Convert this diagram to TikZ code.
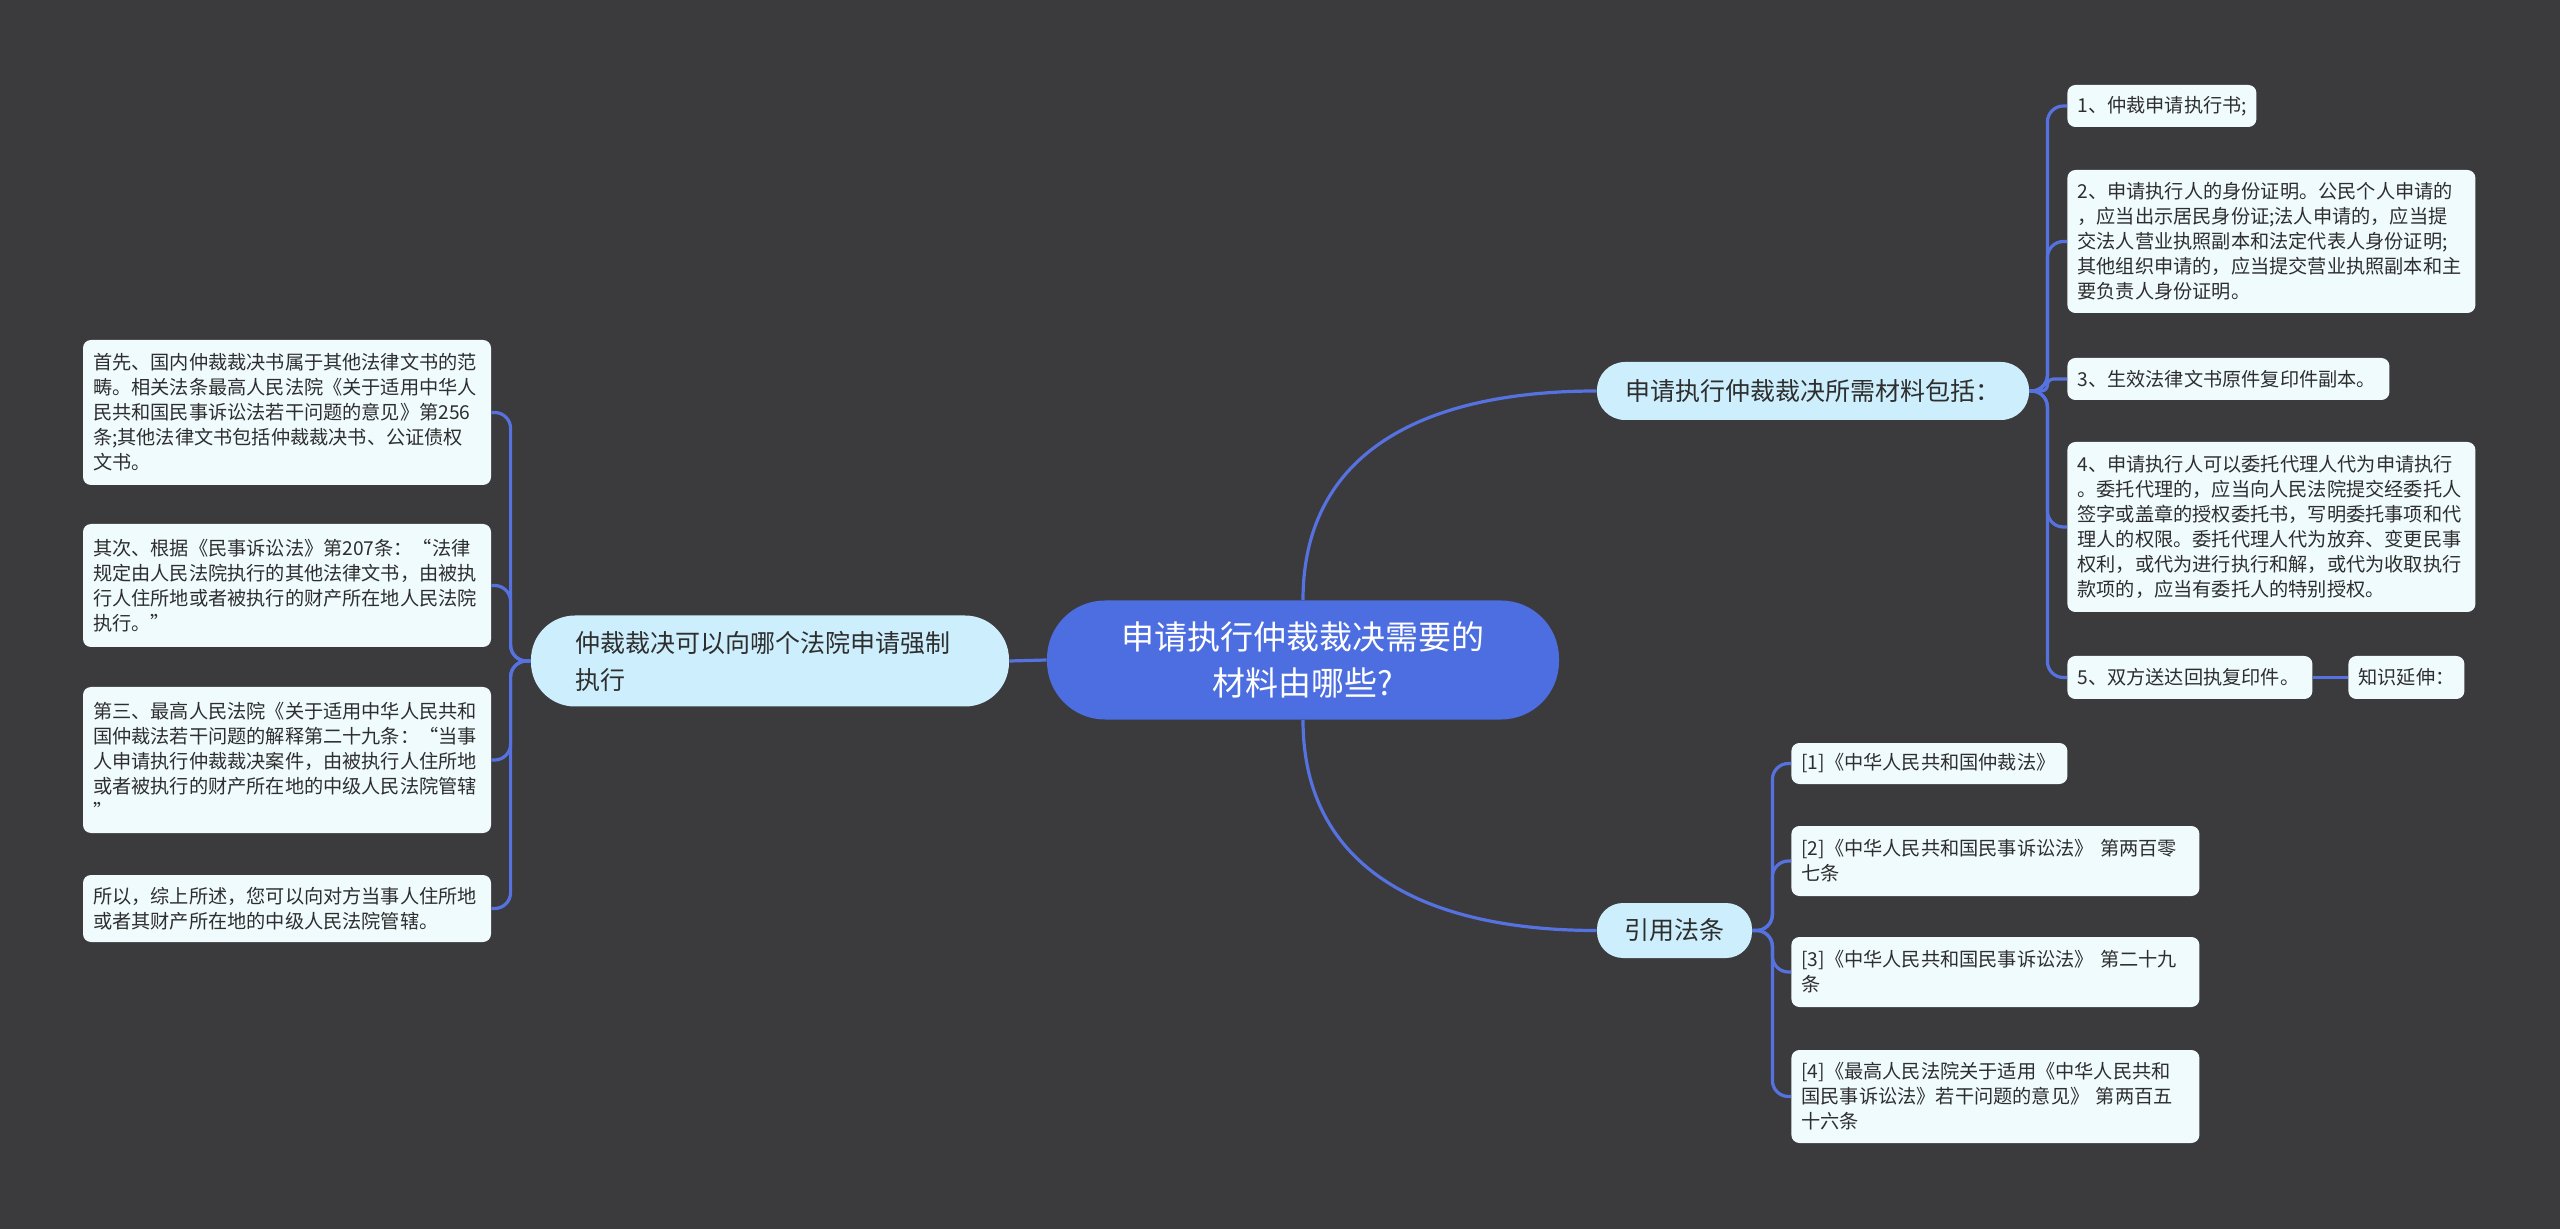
\documentclass[tikz,border=0pt]{standalone}
\usepackage{fontspec}
\setmainfont{Noto Sans CJK SC}
\usetikzlibrary{positioning}

\definecolor{bgcol}{HTML}{3B3A3C}
\definecolor{rootcol}{HTML}{4C6EE0}
\definecolor{linkcol}{HTML}{5572E0}
\definecolor{branchcol}{HTML}{CDEFFD}
\definecolor{leafcol}{HTML}{F0FBFE}
\definecolor{textcol}{HTML}{2E2E2E}

\begin{document}
\begin{tikzpicture}[x=0.5pt,y=-0.5pt,
  root/.style={fill=rootcol,text=white,rounded corners=29pt,align=center,
    minimum width=256pt,minimum height=59.5pt,inner sep=0pt,
    font=\fontsize{16.5}{23}\selectfont},
  branch/.style={fill=branchcol,text=textcol,inner sep=0pt,
    font=\fontsize{12.5}{18.5}\selectfont},
  leaf/.style={fill=leafcol,text=textcol,rounded corners=4pt,align=left,
    inner xsep=5pt,inner ysep=0pt,font=\fontsize{9.6}{12.5}\selectfont},
  link/.style={draw=linkcol,line width=1.6pt},
  fork/.style={link,rounded corners=8pt}]

\fill[bgcol] (0,0) rectangle (2560,1229);

% centre and main branches
\node[root] (root) at (1303,660) {申请执行仲裁裁决需要的\\材料由哪些?};
\node[branch,rounded corners=22pt,align=left,text width=195pt,inner xsep=22pt,
  minimum height=45.5pt] (court) at (770,661) {仲裁裁决可以向哪个法院申请强制\\执行};
\node[branch,rounded corners=14pt,minimum width=216pt,minimum height=29pt]
  (needs) at (1813,391) {申请执行仲裁裁决所需材料包括：};
\node[branch,rounded corners=13pt,minimum width=77.5pt,minimum height=27.5pt]
  (laws) at (1674.5,930.5) {引用法条};

% left side
\node[leaf,text width=194pt,minimum height=72.5pt] (first) at (287,412.5)
  {首先、国内仲裁裁决书属于其他法律文书的范\\畴。相关法条最高人民法院《关于适用中华人\\民共和国民事诉讼法若干问题的意见》第256\\条;其他法律文书包括仲裁裁决书、公证债权\\文书。};
\node[leaf,text width=194pt,minimum height=61.5pt] (second) at (287,585.5)
  {其次、根据《民事诉讼法》第207条：“法律\\规定由人民法院执行的其他法律文书，由被执\\行人住所地或者被执行的财产所在地人民法院\\执行。”};
\node[leaf,text width=194pt,minimum height=73pt] (third) at (287,760)
  {第三、最高人民法院《关于适用中华人民共和\\国仲裁法若干问题的解释第二十九条：“当事\\人申请执行仲裁裁决案件，由被执行人住所地\\或者被执行的财产所在地的中级人民法院管辖\\”};
\node[leaf,text width=194pt,minimum height=33.5pt] (fourth) at (287,908.5)
  {所以，综上所述，您可以向对方当事人住所地\\或者其财产所在地的中级人民法院管辖。};

% materials
\node[leaf,anchor=west,text width=84.5pt,minimum height=21pt] (m1) at (2067,106)
  {1、仲裁申请执行书;};
\node[leaf,anchor=west,text width=194pt,minimum height=71.5pt] (m2) at (2067,241.5)
  {2、申请执行人的身份证明。公民个人申请的\\，应当出示居民身份证;法人申请的，应当提\\交法人营业执照副本和法定代表人身份证明;\\其他组织申请的，应当提交营业执照副本和主\\要负责人身份证明。};
\node[leaf,anchor=west,text width=151pt,minimum height=21pt] (m3) at (2067,379)
  {3、生效法律文书原件复印件副本。};
\node[leaf,anchor=west,text width=194pt,minimum height=85pt] (m4) at (2067,527)
  {4、申请执行人可以委托代理人代为申请执行\\。委托代理的，应当向人民法院提交经委托人\\签字或盖章的授权委托书，写明委托事项和代\\理人的权限。委托代理人代为放弃、变更民事\\权利，或代为进行执行和解，或代为收取执行\\款项的，应当有委托人的特别授权。};
\node[leaf,anchor=west,text width=112.5pt,minimum height=21.5pt] (m5) at (2067,677.5)
  {5、双方送达回执复印件。};
\node[leaf,anchor=west,text width=48pt,minimum height=21.5pt] (more) at (2348,677.5)
  {知识延伸：};

% cited laws
\node[leaf,anchor=west,text width=128pt,minimum height=20.5pt] (law1) at (1791,763.5)
  {[1]《中华人民共和国仲裁法》};
\node[leaf,anchor=west,text width=194pt,minimum height=35pt] (law2) at (1791,861)
  {[2]《中华人民共和国民事诉讼法》~第两百零\\七条};
\node[leaf,anchor=west,text width=194pt,minimum height=35pt] (law3) at (1791,972)
  {[3]《中华人民共和国民事诉讼法》~第二十九\\条};
\node[leaf,anchor=west,text width=194pt,minimum height=46.5pt] (law4) at (1791,1096.5)
  {[4]《最高人民法院关于适用《中华人民共和\\国民事诉讼法》若干问题的意见》~第两百五\\十六条};

% connectors
\draw[link] (root.west) -- (court.east);
\draw[link] (root.north) .. controls +(0,-150) and +(-170,0) .. (needs.west);
\draw[link] (root.south) .. controls +(0,150) and +(-170,0) .. (laws.west);
\foreach \leaf in {first,second,third,fourth}
  \draw[fork] (court.west) -- ++(-20,0) |- (\leaf.east);
\foreach \leaf in {m1,m2,m4,m5}
  \draw[fork] (needs.east) -- ++(18,0) |- (\leaf.west);
\draw[link,rounded corners=3pt] (needs.east) -- ++(18,0) |- (m3.west);
\draw[link] (m5.east) -- (more.west);
\foreach \leaf in {law1,law2,law3,law4}
  \draw[fork] (laws.east) -- ++(20,0) |- (\leaf.west);
\end{tikzpicture}
\end{document}
